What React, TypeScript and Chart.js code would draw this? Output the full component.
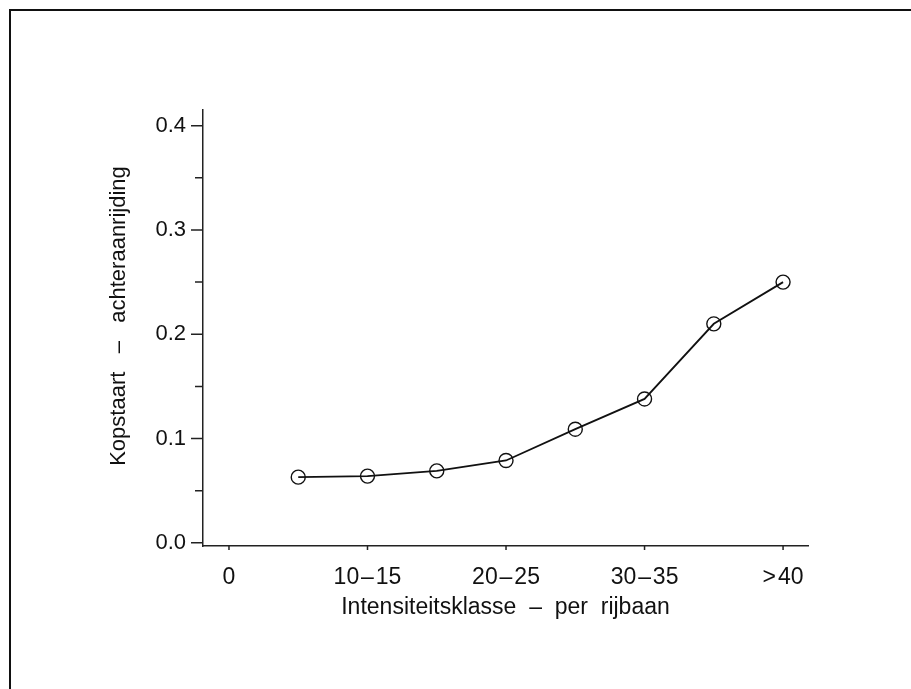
import React, { useEffect, useRef } from "react";
import { Chart, registerables } from "chart.js";

Chart.register(...registerables);

// 8 intensity classes (points)
const classes = ["5–10", "10–15", "15–20", "20–25", "25–30", "30–35", "35–40", ">40"];
const values = [0.063, 0.064, 0.069, 0.079, 0.109, 0.138, 0.21, 0.25];

// x-axis tick positions (class index) and labels
const xTickValues = [0, 2, 4, 6, 8];
const xTickLabels = ["0", "10\u200A\u2013\u200A15", "20\u200A\u2013\u200A25", "30\u200A\u2013\u200A35", ">\u200A40"];

// y-axis ticks
const yMajorTicks = [0.0, 0.1, 0.2, 0.3, 0.4];
const yMinorTicks = [0.05, 0.15, 0.25, 0.35];
const yTickLabels = ["0.0", "0.1", "0.2", "0.3", "0.4"];

const xTitle = "Intensiteitsklasse  \u2013  per  rijbaan";
const yTitle = "Kopstaart   \u2013   achteraanrijding";

const FONT = "'Liberation Sans', Arial, Helvetica, sans-serif";

const tickPlugin = {
  id: "customTicks",
  afterDraw(chart: any) {
    const ctx = chart.ctx;
    const ys = chart.scales.y;
    const xs = chart.scales.x;
    ctx.save();
    ctx.strokeStyle = "#222";
    ctx.lineWidth = 1.5;
    ctx.beginPath();
    yMajorTicks.forEach((v) => {
      const p = ys.getPixelForValue(v);
      ctx.moveTo(ys.right - 12, p);
      ctx.lineTo(ys.right, p);
    });
    yMinorTicks.forEach((v) => {
      const p = ys.getPixelForValue(v);
      ctx.moveTo(ys.right - 8, p);
      ctx.lineTo(ys.right, p);
    });
    xTickValues.forEach((v) => {
      const p = xs.getPixelForValue(v);
      ctx.moveTo(p, xs.top);
      ctx.lineTo(p, xs.top + 4);
    });
    ctx.stroke();

    // y-axis title, drawn rotated, slightly above the plot's vertical middle
    ctx.save();
    ctx.fillStyle = "#111";
    ctx.font = `22px ${FONT}`;
    ctx.textAlign = "center";
    ctx.textBaseline = "middle";
    const cx = 119;
    const cy = (ys.top + ys.bottom) / 2 - 12;
    ctx.translate(cx, cy);
    ctx.rotate(-Math.PI / 2);
    ctx.fillText(yTitle, 0, 0);
    ctx.restore();

    ctx.restore();
  },
};

export default function App() {
  const ref = useRef<HTMLCanvasElement>(null);

  useEffect(() => {
    if (!ref.current) return;
    const chart = new Chart(ref.current, {
      type: "line",
      data: {
        labels: classes,
        datasets: [
          {
            data: values.map((v, i) => ({ x: i + 1, y: v })),
            borderColor: "#111",
            borderWidth: 1.8,
            pointRadius: 7,
            pointBorderWidth: 1.4,
            pointBackgroundColor: "rgba(0,0,0,0)",
            pointBorderColor: "#111",
            tension: 0,
            fill: false,
          },
        ],
      },
      options: {
        responsive: false,
        animation: false,
        plugins: {
          legend: { display: false },
          tooltip: { enabled: false },
        },
        layout: { padding: { top: 110, right: 103, left: 0, bottom: 0 } },
        scales: {
          x: {
            type: "linear",
            min: -0.375,
            max: 8.36,
            afterFit: (s: any) => {
              s.height = 143;
            },
            afterBuildTicks: (s: any) => {
              s.ticks = xTickValues.map((v) => ({ value: v }));
            },
            grid: { display: false, drawTicks: false },
            border: { display: true, color: "#222", width: 1.5 },
            ticks: {
              padding: 18,
              color: "#111",
              font: { family: FONT, size: 23 },
              maxRotation: 0,
              autoSkip: false,
              callback: (v: any) => {
                const i = xTickValues.indexOf(Number(v));
                return i >= 0 ? xTickLabels[i] : "";
              },
            },
            title: {
              display: true,
              text: xTitle,
              color: "#111",
              font: { family: FONT, size: 23 },
              padding: { top: 0, bottom: 68 },
            },
          },
          y: {
            type: "linear",
            min: -0.003,
            max: 0.415,
            afterFit: (s: any) => {
              s.width = 203;
            },
            afterBuildTicks: (s: any) => {
              s.ticks = yMajorTicks.map((v) => ({ value: v }));
            },
            grid: { display: false, drawTicks: false },
            border: { display: true, color: "#222", width: 1.5 },
            ticks: {
              padding: 17,
              color: "#111",
              font: { family: FONT, size: 22 },
              callback: (v: any) => {
                const i = yMajorTicks.findIndex((t) => Math.abs(t - Number(v)) < 1e-9);
                return i >= 0 ? yTickLabels[i] : "";
              },
            },
            title: { display: false },
          },
        },
      },
      plugins: [tickPlugin],
    });
    return () => chart.destroy();
  }, []);

  return (
    <div
      style={{
        position: "fixed",
        left: 0,
        top: 0,
        width: 911,
        height: 689,
        background: "#fff",
        overflow: "hidden",
      }}
    >
      <div
        style={{
          position: "absolute",
          left: 9,
          top: 9,
          width: 1000,
          height: 1000,
          borderLeft: "2px solid #111",
          borderTop: "2px solid #111",
        }}
      />
      <canvas ref={ref} width={911} height={689} style={{ position: "absolute", left: 0, top: 0 }} />
    </div>
  );
}
